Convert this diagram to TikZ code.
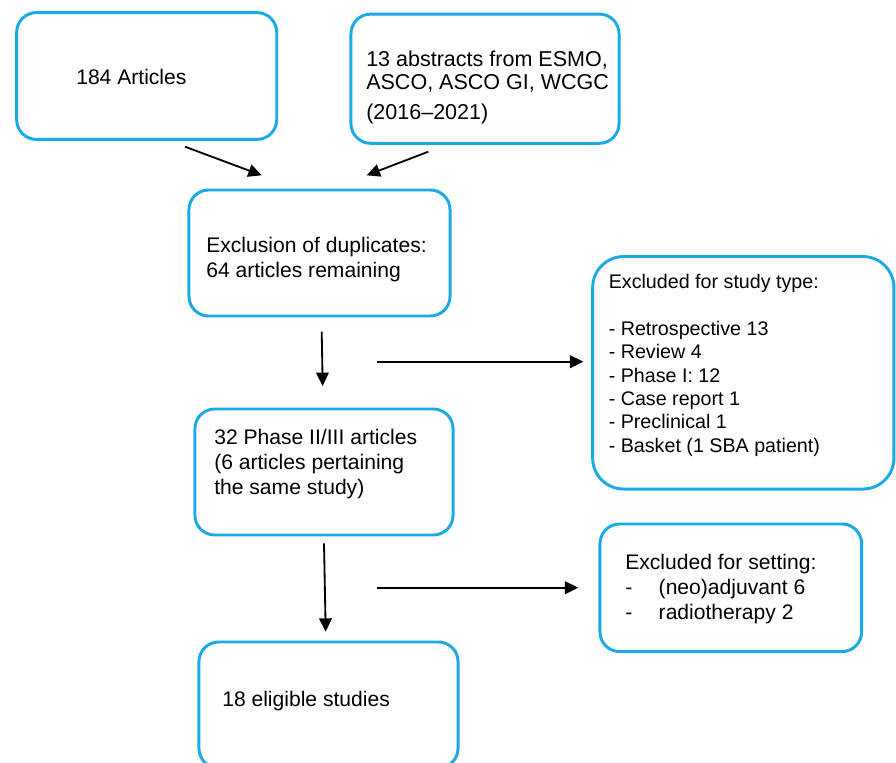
\documentclass[tikz,border=0pt]{standalone}
\usepackage{fontspec}
\setmainfont{Liberation Sans}
\usetikzlibrary{arrows.meta}
\definecolor{boxblue}{RGB}{28,169,231}

\begin{document}
\begin{tikzpicture}[x=0.025cm, y=-0.025cm,
		box/.style={draw=boxblue, line width=2.1pt, rounded corners=14pt, inner sep=0pt},
		txt/.style={anchor=west, align=left, inner sep=0pt, font=\fontsize{15}{17.8}\selectfont},
		arr/.style={line width=1.3pt, -{Triangle[length=9.5pt, width=9pt]}}]
		\useasboundingbox (0,0) rectangle (896,763);
		% boxes
		\node (ART)  at (146.7,76)   [box, minimum width=6.5cm,  minimum height=3.17cm] {};
		\node (ABS)  at (485,78.7)   [box, minimum width=6.7cm,  minimum height=3.23cm] {};
		\node (DUP)  at (319.5,253)  [box, minimum width=6.525cm, minimum height=3.15cm] {};
		\node (TYPE) at (743.3,372.8) [box, rounded corners=22pt, minimum width=7.53cm, minimum height=5.81cm] {};
		\node (PH)   at (324,472)    [box, minimum width=6.45cm, minimum height=3.15cm] {};
		\node (SET)  at (730.8,587.8) [box, minimum width=6.54cm, minimum height=3.19cm] {};
		\node (ELIG) at (328.5,705)  [box, minimum width=6.475cm, minimum height=3.15cm] {};
		% texts
		\node (ARTtxt)  at (76,76.7)   [txt] {184 Articles};
		\node (ABStxt)  at (366,87.6)  [txt, font=\fontsize{15.3}{16.6}\selectfont] {13 abstracts from ESMO,\\ ASCO, ASCO GI, WCGC\\[4.8pt] (2016--2021)};
		\node (DUPtxt)  at (206,259.5) [txt] {Exclusion of duplicates:\\ 64 articles remaining};
		\node (TYPEtxt) at (608.5,365.3) [txt, font=\fontsize{14}{16.6}\selectfont] {Excluded for study type:\\[16.6pt] - Retrospective 13\\ - Review 4\\ - Phase I: 12\\ - Case report 1\\ - Preclinical 1\\ - Basket (1 SBA patient)};
		\node (PHtxt)   at (214,464.5) [txt] {32 Phase II/III articles\\ (6 articles pertaining\\ the same study)};
		\node (SETtxt)  at (625,588.7) [txt] {Excluded for setting:\\ \makebox[23.8pt][l]{-}(neo)adjuvant 6\\ \makebox[23.8pt][l]{-}radiotherapy 2};
		\node (ELIGtxt) at (222,700.7) [txt] {18 eligible studies};
		% arrow ends
		\coordinate (ARTout)  at (185,146.7);
		\coordinate (DUPinL)  at (261.7,175.3);
		\coordinate (ABSout)  at (428.3,151.7);
		\coordinate (DUPinR)  at (366.7,175.3);
		\coordinate (DUPout)  at (321.7,331.7);
		\coordinate (PHin)    at (322.7,386);
		\coordinate (TYPEfrom) at (376.7,361.7);
		\coordinate (TYPEin)  at (583.3,361.7);
		\coordinate (PHout)   at (324,543.3);
		\coordinate (ELIGin)  at (325.7,631.7);
		\coordinate (SETfrom) at (376.7,587.7);
		\coordinate (SETin)   at (578.3,587.7);
		\draw[arr] (ARTout) -- (DUPinL);
		\draw[arr] (ABSout) -- (DUPinR);
		\draw[arr] (DUPout) -- (PHin);
		\draw[arr] (TYPEfrom) -- (TYPEin);
		\draw[arr] (PHout) -- (ELIGin);
		\draw[arr] (SETfrom) -- (SETin);
\end{tikzpicture}
\end{document}
